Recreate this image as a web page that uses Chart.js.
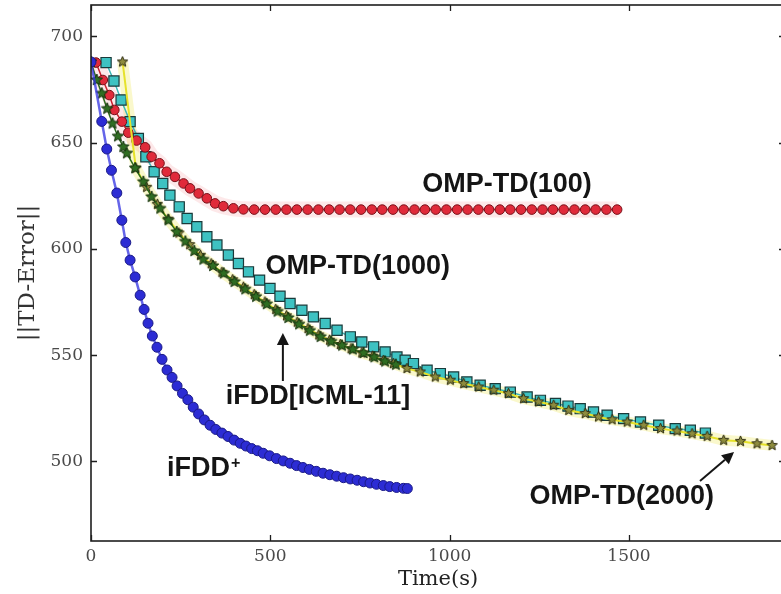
<!DOCTYPE html>
<html><head><meta charset="utf-8">
<script src="https://cdn.jsdelivr.net/npm/chart.js@4.4.0/dist/chart.umd.min.js"></script>
<style>
html,body{margin:0;padding:0;background:#fff;overflow:hidden;width:781px;height:594px}
#wrap{position:relative;width:800px;height:594px}
</style>
</head><body><div id="wrap"><canvas id="c" width="800" height="594"></canvas></div>
<script>
// ---- data ----
const xTicks = [0, 500, 1000, 1500];
const yTicks = [500, 550, 600, 650, 700];

const ifddPlusT = [0,30,44,57,72,86,97,109,123,137,148,159,171,184,198,212,226,240,255,270,285,300,316,332,348,365,382,399,416,432,448,464,480,498,517,536,555,573,591,609,628,647,666,685,704,723,742,760,778,796,815,833,852,871,882];
const ifddPlusV = [688,660,647,637,626.3,613.5,603,594.7,586.8,578.2,571.5,565,559,553.7,548,543,539.5,535.5,532,529,525.5,522.3,519.5,517,515,513.3,511.7,510,508.5,507.2,506,505,503.8,502.6,501.3,500.2,499.1,498,497.1,496.2,495.3,494.4,493.7,493,492.3,491.7,491.1,490.4,489.8,489.2,488.6,488.1,487.7,487.3,487.2];

const omp100T = [14,33,51,65,86,104,127,151,169,191,211,234,258,276,300,323,346,369,397,425,455,485,515,545,574,604,634,664,693,723,753,783,812,842,872,902,931,961,991,1021,1050,1080,1110,1140,1169,1199,1229,1259,1288,1318,1348,1378,1407,1437,1467];
const omp100V = [687.7,679.5,672.4,665.4,659.9,654.7,651,647.8,643.4,640.3,636.3,633.9,630.8,628.5,626.1,623.8,621.4,620.1,619.1,618.6,618.5,618.5,618.5,618.5,618.5,618.5,618.5,618.5,618.5,618.5,618.5,618.5,618.5,618.5,618.5,618.5,618.5,618.5,618.5,618.5,618.5,618.5,618.5,618.5,618.5,618.5,618.5,618.5,618.5,618.5,618.5,618.5,618.5,618.5,618.5];

const omp1000T = [42,64,84,109,132,153,176,200,220,246,268,295,323,351,383,411,439,470,499,527,555,588,620,653,686,723,755,788,820,853,876,899,937,974,1011,1048,1085,1127,1169,1216,1253,1295,1330,1364,1401,1439,1485,1532,1583,1629,1671,1713];
const omp1000V = [687.7,679,670.1,659.9,652,643.4,636.3,630.8,625.3,619.8,614.3,610.4,605.7,601.8,597.1,593.1,589.2,585.3,581.4,577.7,574.3,571.1,568,564.9,561.7,558.6,556.2,553.9,551.5,549.1,547.6,546,542.9,541.3,539.7,537.4,535.8,534.2,532.6,530.3,528.7,527.2,526,524.8,523.2,521.7,520.1,518.5,517,515.4,514.6,513.3];

const ifddT = [0,16,30,45,60,75,90,100,123,146,169,193,216,239,263,288,313,340,370,400,430,460,490,520,550,580,610,640,670,700,730,760,790,820,850];
const ifddV = [688,679.5,673.2,666,659,653,648,645,638,631.6,624.5,619,613.5,608,603.5,599,595,592,588.5,584.5,581,577.5,574,570.5,567.5,564.5,561.5,558.6,556.4,554.5,552.7,551,549,547,545.5];

const omp2000T = [88,125,155,185,215,245,275,305,335,365,395,425,455,485,515,545,575,605,635,665,695,725,755,785,815,843,881,918,960,1002,1039,1081,1123,1164,1206,1248,1290,1332,1378,1415,1453,1495,1541,1588,1634,1676,1718,1764,1811,1857,1899];
const omp2000V = [688,638,629,621,614,607.5,602,597,593,589,585.5,582,578.5,575,571.5,568.5,565.5,562.5,559.5,557,555,553,551,549.5,547.5,546,543.7,542.1,539.7,538.2,536.6,535,533.5,531.9,529.5,528,526.4,524,522.5,520.9,519.6,518.5,517,515.4,514.3,513,511.8,509.9,509.4,508.3,507.5];

// annotation anchors (data units)
const labelTexts = ['OMP-TD(100)', 'OMP-TD(1000)', 'iFDD[ICML-11]', 'OMP-TD(2000)'];
const labelT = [1160, 744, 633, 1480];
const labelV = [630.5, 591.9, 530.3, 483.2];
const plusLabel = {text: 'iFDD', sup: '+', t: 212, v: 496.4};
const arrows = [
  {t0: 535, v0: 537.8, t1: 535, v1: 560.4},
  {t0: 1698, v0: 490.7, t1: 1793, v1: 504.4}
];

// ---- helpers ----
const PLOT_TOP = 5;
const pts = (T, V) => T.map((t, i) => ({x: t, y: V[i]}));
function starCanvas(r, fill, stroke, lw) {
  const s = Math.ceil(2 * r + 2 * lw + 2);
  const c = document.createElement('canvas');
  c.width = s; c.height = s;
  const g = c.getContext('2d');
  g.translate(s / 2, s / 2);
  g.beginPath();
  for (let i = 0; i < 10; i++) {
    const rr = i % 2 === 0 ? r : r * 0.45;
    const a = -Math.PI / 2 + i * Math.PI / 5;
    const px = rr * Math.cos(a), py = rr * Math.sin(a);
    if (i === 0) g.moveTo(px, py); else g.lineTo(px, py);
  }
  g.closePath();
  g.fillStyle = fill; g.fill();
  g.lineWidth = lw; g.strokeStyle = stroke; g.stroke();
  return c;
}
const greenStar = starCanvas(6, '#2f6d22', '#15300c', 1);
const oliveStar = starCanvas(5.5, '#8e8c3e', '#2c2a10', 1);

// pin the top of the plot area
const pinTop = {
  id: 'pinTop',
  afterLayout(chart) {
    const a = chart.chartArea, y = chart.scales.y;
    if (a.top !== PLOT_TOP) {
      a.top = PLOT_TOP; a.height = a.bottom - a.top;
      y.top = PLOT_TOP; y.height = y.bottom - y.top;
      y.configure();
    }
  }
};

const frame = {
  id: 'frame',
  afterDatasetsDraw(chart) {
    const {ctx, chartArea: a, scales: {x, y}} = chart;
    ctx.save();
    ctx.strokeStyle = '#1e1e1e';
    ctx.lineWidth = 1.6;
    ctx.strokeRect(a.left, a.top, a.right - a.left, a.bottom - a.top);
    ctx.lineWidth = 1.3;
    ctx.beginPath();
    xTicks.forEach(v => {
      const p = Math.round(x.getPixelForValue(v)) + 0.5;
      ctx.moveTo(p, a.bottom); ctx.lineTo(p, a.bottom - 6);
      ctx.moveTo(p, a.top); ctx.lineTo(p, a.top + 6);
    });
    yTicks.forEach(v => {
      const p = Math.round(y.getPixelForValue(v)) + 0.5;
      ctx.moveTo(a.left, p); ctx.lineTo(a.left + 6, p);
      ctx.moveTo(a.right, p); ctx.lineTo(a.right - 6, p);
    });
    ctx.stroke();

    // annotations
    ctx.fillStyle = '#151515';
    ctx.textAlign = 'center';
    ctx.textBaseline = 'middle';
    ctx.font = 'bold 27px "Liberation Sans", Arial, sans-serif';
    labelTexts.forEach((s, i) => {
      ctx.fillText(s, x.getPixelForValue(labelT[i]), y.getPixelForValue(labelV[i]));
    });
    ctx.textAlign = 'left';
    const px = x.getPixelForValue(plusLabel.t), py = y.getPixelForValue(plusLabel.v);
    ctx.fillText(plusLabel.text, px, py);
    const w = ctx.measureText(plusLabel.text).width;
    ctx.font = 'bold 16px "Liberation Sans", Arial, sans-serif';
    ctx.fillText(plusLabel.sup, px + w + 1, py - 5);

    ctx.strokeStyle = '#151515';
    ctx.lineWidth = 2;
    arrows.forEach(ar => {
      const x0 = x.getPixelForValue(ar.t0), y0 = y.getPixelForValue(ar.v0);
      const x1 = x.getPixelForValue(ar.t1), y1 = y.getPixelForValue(ar.v1);
      const ang = Math.atan2(y1 - y0, x1 - x0);
      const hl = 12, hw = 6;
      const bx = x1 - hl * Math.cos(ang), by = y1 - hl * Math.sin(ang);
      ctx.beginPath(); ctx.moveTo(x0, y0); ctx.lineTo(bx, by); ctx.stroke();
      ctx.beginPath();
      ctx.moveTo(x1, y1);
      ctx.lineTo(bx + hw * Math.sin(ang), by - hw * Math.cos(ang));
      ctx.lineTo(bx - hw * Math.sin(ang), by + hw * Math.cos(ang));
      ctx.closePath(); ctx.fill();
    });
    ctx.restore();
  }
};

const serif = '"DejaVu Serif", "Liberation Serif", serif';

new Chart(document.getElementById('c'), {
  type: 'scatter',
  data: {
    datasets: [
      // glows
      {data: pts(omp100T, omp100V), showLine: true, borderColor: 'rgba(240,110,120,0.16)', borderWidth: 16, pointRadius: 0, order: 20},
      {data: pts(omp2000T, omp2000V), showLine: true, borderColor: 'rgba(240,235,110,0.35)', borderWidth: 11, pointRadius: 0, order: 21},
      // iFDD+
      {label: 'iFDD+', data: pts(ifddPlusT, ifddPlusV), showLine: true,
       borderColor: 'rgba(50,50,225,0.75)', borderWidth: 2.5,
       pointStyle: 'circle', pointRadius: 5, pointBackgroundColor: '#2c2cd4', pointBorderColor: '#1a1a86', pointBorderWidth: 1, order: 0},
      // iFDD[ICML-11]
      {label: 'iFDD[ICML-11]', data: pts(ifddT, ifddV), showLine: true,
       borderColor: '#2c6a1e', borderWidth: 1.5,
       pointStyle: greenStar, pointRadius: 5, order: 1},
      // OMP-TD(2000)
      {label: 'OMP-TD(2000)', data: pts(omp2000T, omp2000V), showLine: true,
       borderColor: '#e6e22a', borderWidth: 2,
       pointStyle: oliveStar, pointRadius: 5, order: 2},
      // OMP-TD(100)
      {label: 'OMP-TD(100)', data: pts(omp100T, omp100V), showLine: true,
       borderColor: '#c8202e', borderWidth: 1.5,
       pointStyle: 'circle', pointRadius: 4.8, pointBackgroundColor: '#e02a3a', pointBorderColor: '#761018', pointBorderWidth: 1, order: 3},
      // OMP-TD(1000)
      {label: 'OMP-TD(1000)', data: pts(omp1000T, omp1000V), showLine: true,
       borderColor: '#3cb6b6', borderWidth: 1.5,
       pointStyle: 'rect', pointRadius: 7.2, pointBackgroundColor: '#3ec2c2', pointBorderColor: '#1a3a3a', pointBorderWidth: 1.2, order: 4}
    ]
  },
  options: {
    responsive: false,
    animation: false,
    devicePixelRatio: 1,
    layout: {padding: {top: 5, right: 15, left: 0, bottom: 0}},
    plugins: {legend: {display: false}, tooltip: {enabled: false}},
    scales: {
      x: {
        type: 'linear', min: 0, max: 1935,
        afterFit: s => { s.height = 53; s.paddingLeft = 0; s.paddingRight = 0; },
        afterBuildTicks: s => { s.ticks = xTicks.map(v => ({value: v})); },
        grid: {display: false, drawTicks: false},
        border: {display: false},
        ticks: {color: '#4a4a4a', font: {family: serif, size: 17}, padding: 5, maxRotation: 0, callback: v => String(v)},
        title: {display: true, text: 'Time(s)', color: '#222', font: {family: serif, size: 21}, padding: {top: 2, bottom: 2}}
      },
      y: {
        type: 'linear', min: 462.5, max: 714.8,
        afterFit: s => { s.width = 91; s.paddingTop = 0; s.paddingBottom = 0; },
        afterBuildTicks: s => { s.ticks = yTicks.map(v => ({value: v})); },
        grid: {display: false, drawTicks: false},
        border: {display: false},
        ticks: {color: '#4a4a4a', font: {family: serif, size: 17}, padding: 8, callback: v => String(v)},
        title: {display: true, text: '||TD-Error||', color: '#333', font: {family: serif, size: 23}, padding: {top: 14, bottom: 14}}
      }
    }
  },
  plugins: [pinTop, frame]
});
</script>
</body></html>
